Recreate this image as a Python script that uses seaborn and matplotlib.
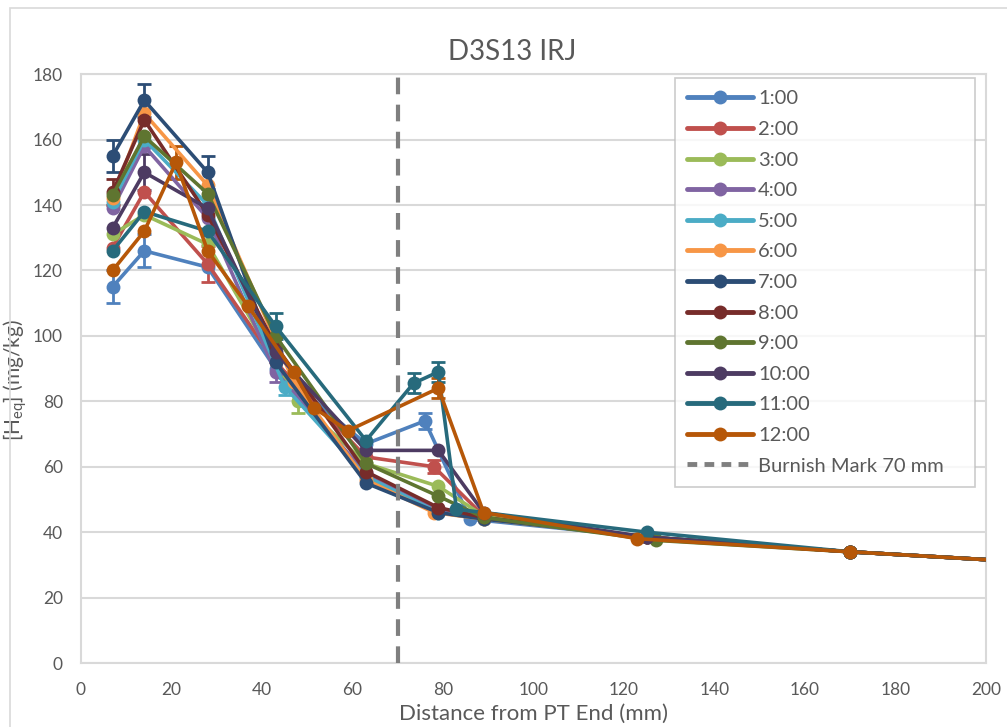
import matplotlib
matplotlib.use("Agg")
import matplotlib.pyplot as plt
import pandas as pd
import seaborn as sns
from matplotlib.lines import Line2D
from matplotlib.patches import Rectangle

# series: distance (mm), [Heq] (mg/kg), error (0 = none)
clock = ["1:00", "2:00", "3:00", "4:00", "5:00", "6:00",
         "7:00", "8:00", "9:00", "10:00", "11:00", "12:00"]

dist_1 = [7, 14, 28, 43, 63, 76, 86, 125, 170, 220]
heq_1 = [115, 126, 121, 90, 67, 74, 44, 38.5, 34, 30]
err_1 = [5, 5, 0, 0, 0, 2.5, 0, 0, 0, 0]

dist_2 = [7, 14, 28, 43, 63, 78, 89, 125, 170, 220]
heq_2 = [127, 144, 122, 92, 63, 60, 45, 38.5, 34, 30]
err_2 = [0, 0, 5.5, 0, 0, 2, 0, 0, 0, 0]

dist_3 = [7, 14, 28, 48, 63, 79, 89, 125, 170, 220]
heq_3 = [131, 137, 128, 80, 61, 54, 45, 38.5, 34, 30]
err_3 = [0, 0, 0, 3.5, 0, 0, 0, 0, 0, 0]

dist_4 = [7, 14, 28, 43, 63, 79, 89, 125, 170, 220]
heq_4 = [139, 158, 136, 89, 58, 47, 44, 38.5, 34, 30]
err_4 = [0, 0, 0, 3, 0, 0, 0, 0, 0, 0]

dist_5 = [7, 14, 28, 45, 63, 79, 89, 125, 170, 220]
heq_5 = [141, 160, 140, 84.5, 57, 46, 44, 38.5, 34, 30]
err_5 = [0, 0, 0, 2.5, 0, 0, 0, 0, 0, 0]

dist_6 = [7, 14, 28, 47, 63, 78, 89, 125, 170, 220]
heq_6 = [142, 168, 146, 86, 56, 46, 44, 38.5, 34, 30]
err_6 = [0, 0, 0, 0, 0, 0, 0, 0, 0, 0]

dist_7 = [7, 14, 28, 43, 63, 79, 89, 125, 170, 220]
heq_7 = [155, 172, 150, 92, 55, 46, 44, 38.5, 34, 30]
err_7 = [5, 5, 5, 0, 0, 0, 0, 0, 0, 0]

dist_8 = [7, 14, 28, 43, 63, 79, 89, 125, 170, 220]
heq_8 = [144, 166, 137, 97, 58.5, 47.5, 44.5, 38.5, 34, 30]
err_8 = [4, 0, 0, 0, 0, 0, 0, 0, 0, 0]

dist_9 = [7, 14, 28, 43, 63, 79, 89, 127, 170, 220]
heq_9 = [143, 161, 143.5, 100, 61, 51, 44.5, 37.5, 34, 30]
err_9 = [0, 0, 0, 0, 0, 0, 0, 0, 0, 0]

dist_10 = [7, 14, 28, 43, 63, 79, 89, 125, 170, 220]
heq_10 = [133, 150, 139, 95, 65, 65, 46, 38.5, 34, 30]
err_10 = [0, 5.5, 0, 0, 0, 0, 0, 0, 0, 0]

dist_11 = [7, 14, 28, 43, 63, 73.5, 79, 83, 125, 170, 220]
heq_11 = [126, 138, 132, 103, 68, 85.5, 89, 47, 40, 34, 30]
err_11 = [0, 0, 0, 4, 0, 3, 3, 0, 0, 0, 0]

dist_12 = [7, 14, 21, 28, 37, 47, 51.5, 59, 79, 89, 123, 170, 220]
heq_12 = [120, 132, 153, 126, 109, 89, 78, 71, 84, 46, 38, 34, 30]
err_12 = [0, 0, 5, 0, 0, 0, 0, 0, 3, 0, 0, 0, 0]

burnish_mark = 70

colors = ["#4F81BD", "#C0504D", "#9BBB59", "#8064A2", "#4BACC6", "#F79646",
          "#2C4D75", "#772C2A", "#5F7530", "#4D3B62", "#276A7C", "#B65708"]

series = [
    (dist_1, heq_1, err_1), (dist_2, heq_2, err_2), (dist_3, heq_3, err_3),
    (dist_4, heq_4, err_4), (dist_5, heq_5, err_5), (dist_6, heq_6, err_6),
    (dist_7, heq_7, err_7), (dist_8, heq_8, err_8), (dist_9, heq_9, err_9),
    (dist_10, heq_10, err_10), (dist_11, heq_11, err_11),
    (dist_12, heq_12, err_12),
]

rows = []
for name, (xs, ys, es) in zip(clock, series):
    for x, y, e in zip(xs, ys, es):
        rows.append({"clock": name, "dist": x, "heq": y, "err": e})
df = pd.DataFrame(rows)

sns.set_theme(style="white")
plt.rcParams["font.family"] = ["Lato", "DejaVu Sans"]
plt.rcParams["mathtext.fontset"] = "custom"
plt.rcParams["mathtext.rm"] = "Lato"
plt.rcParams["mathtext.it"] = "Lato:italic"

text_col = "#595959"
grid_col = "#D9D9D9"

fig = plt.figure(figsize=(10.07, 7.27), dpi=100)
ax = fig.add_axes([0.0804, 0.088, 0.8986, 0.810])

# error bars first, then lines on top
for name, color in zip(clock, colors):
    sub = df[(df.clock == name) & (df.err > 0)]
    if len(sub):
        ax.errorbar(sub.dist, sub.heq, yerr=sub.err, fmt="none",
                    ecolor=color, elinewidth=2, capsize=5, capthick=2,
                    zorder=2)

sns.lineplot(
    data=df, x="dist", y="heq", hue="clock", hue_order=clock,
    palette=colors, marker="o", markersize=10, markeredgewidth=0,
    linewidth=2.6, errorbar=None, legend=False, ax=ax, zorder=3,
)

ax.axvline(burnish_mark, color="#7F7F7F", linewidth=3, dashes=(4, 2.5),
           zorder=4)

ax.set_xlim(0, 200)
ax.set_ylim(0, 180)
ax.set_xticks(range(0, 201, 20))
ax.set_yticks(range(0, 181, 20))
ax.yaxis.grid(True, color=grid_col, linewidth=1.5)
ax.set_axisbelow(True)
for sp in ax.spines.values():
    sp.set_color(grid_col)
    sp.set_linewidth(1.5)
ax.tick_params(axis="both", labelsize=12.5, colors=text_col, length=0)
ax.tick_params(axis="x", pad=14)
ax.tick_params(axis="y", pad=13)

ax.set_title("D3S13 IRJ", fontsize=20, color=text_col, pad=10, x=0.476)
ax.set_xlabel("Distance from PT End (mm)", fontsize=16, color=text_col,
              labelpad=0)
ax.xaxis.set_label_coords(0.5, -0.07)
ax.set_ylabel("[H$_\\mathregular{eq}$] (mg/kg)", fontsize=15, color=text_col)
ax.yaxis.set_label_coords(-0.057, 0.48)

handles = [Line2D([], [], color=c, linewidth=3.5, marker="o", markersize=10,
                  markeredgewidth=0) for c in colors]
handles.append(Line2D([], [], color="#7F7F7F", linewidth=3.5, dashes=(2, 1.5)))
labels = clock + ["Burnish Mark 70 mm"]
leg = ax.legend(handles, labels, loc="upper left",
                bbox_to_anchor=(0.656, 0.316, 0.332, 0.677), mode="expand",
                borderaxespad=0, fontsize=14.5, handlelength=3.3,
                handletextpad=0.25, labelspacing=0.67, frameon=True,
                fancybox=False, borderpad=0.6)
leg.get_frame().set_edgecolor("#BFBFBF")
leg.get_frame().set_linewidth(1.2)
for t in leg.get_texts():
    t.set_color(text_col)

# chart area border
fig.patches.append(Rectangle((10 / 1007, -0.05), 1.1, 1 - 8 / 727 + 0.05,
                             transform=fig.transFigure, fill=False,
                             edgecolor=grid_col, linewidth=1.2))

fig.savefig("out.png", dpi=100)
